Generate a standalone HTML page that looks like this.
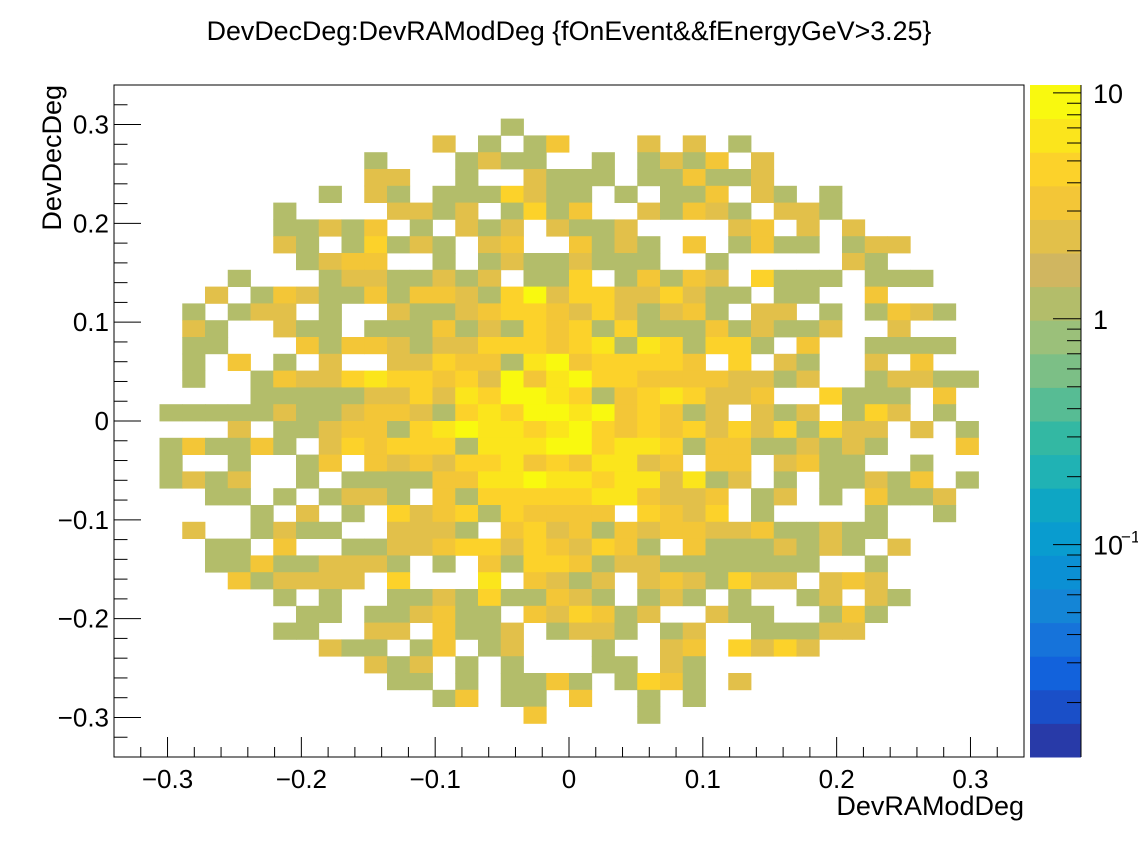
<!DOCTYPE html>
<html><head><meta charset="utf-8"><style>
body{margin:0;background:#fff;}
svg{display:block;font-family:"Liberation Sans",Arial,sans-serif;}
</style></head><body>
<svg id="chart" width="1138" height="843" viewBox="0 0 1138 843" xmlns="http://www.w3.org/2000/svg">
<rect x="0" y="0" width="1138" height="843" fill="#fff"/>
<text x="569" y="40" font-size="26.8" text-anchor="middle">DevDecDeg:DevRAModDeg {fOnEvent&amp;&amp;fEnergyGeV&gt;3.25}</text>
<g id="cells"></g>
<g id="axes"></g>
<rect x="114" y="85" width="910" height="672" fill="none" stroke="#000" stroke-width="1"/>
<text x="1024" y="815" font-size="27" text-anchor="end">DevRAModDeg</text>
<text transform="translate(61,85) rotate(-90)" font-size="27" text-anchor="end">DevDecDeg</text>
<g id="palette"></g>
</svg>
<script>
// Bin contents, rows from top (DevDecDeg high) to bottom; columns left to right. '.' = empty
const rowsData = [
".......... .......... .......... ..........",
".......... .......... .......... ..........",
".......... .......1.. .......... ..........",
".......... ....2.1.13 ...2.2.1.. ..........",
".......... .1...1211. .1.1213.2. ..........",
".......... .22..1..21 11.113112. ..........",
".........1 .21.111421 1.1.113.21 .1........",
".......1.. ..2212.141 3..21321.2 21........",
".......112 13.1.212.2 112....23. 2.2.......",
".......21. 14121.23.. 3121.3.131 1.122.....",
"........12 33..1.1211 2111..1... ..21......",
".....1...1 2211212.11 4.13132.41 11.111....",
"....2.1321 1313321492 44224211.1 1..3......",
"...1.122.1 ..21123443 2421231.22 .1.1321...",
"...21..211 .111312143 4141113121 12..2.....",
"...11...31 3321224443 461641441. 3..1111...",
"...1.3.1.2 ..22433169 344443.4.2 1..2.3....",
"...1..1322 4644342936 9443333221 2..12211..",
"......1111 1224264996 413464223. .4111.3...",
"..11111211 2332146499 6934312.21 2.142.1...",
".....2.112 3314696646 9434342424 1422.2.1..",
"..131131.2 4344416669 9466413311 2121...3..",
"..1..1..13 .323244634 36623.33.2 311..1....",
"..1212..1. 1111336696 64662612.1 .11213.1..",
"....11.1.1 221.314444 4663223.12 .1.3112...",
"......1.2. 1.42341433 33.4324.1. ...1..1...",
"...2..1211 ..2221.342 3132332231 1211......",
"....11.3.. 1122344243 2431.31112 121.2.....",
"....113112 221.1.3144 3122111111 1..1......",
".....31222 2.4...6.32 12.2321422 .232......",
".......1.1 ..11214113 21.121.1.. 12.21.....",
"........11 .112311.32 4312..211. .131......",
".......11. .22.3112.1 221.12..11 122.......",
".........2 11.13.12.. .1..23.424 2.........",
".......... .212.1.1.. .11.21.... ..........",
".......... ..11.1.113 1.1431.2.. ..........",
".......... ....13.11. 3..1.1.... ..........",
".......... ........3. ...1...... ..........",
".......... .......... .......... ..........",
".......... .......... .......... .........."
];
const xRange = [-0.34, 0.34];
const yRange = [-0.34, 0.34];
const nBins = 40;
const xTickLabels = ["\u22120.3","\u22120.2","\u22120.1","0","0.1","0.2","0.3"];
const xTickValues = [-0.3,-0.2,-0.1,0,0.1,0.2,0.3];
const yTickLabels = ["\u22120.3","\u22120.2","\u22120.1","0","0.1","0.2","0.3"];
const yTickValues = [-0.3,-0.2,-0.1,0,0.1,0.2,0.3];
const zLogRange = [-1.94, 1.035];
// palette colours bottom to top
const paletteColors = ["#283aa8","#1a4fc8","#1262dc","#1673da","#1485d6","#0b90d4","#099ccf","#0ea6c4","#20b2b4","#33b8a3","#57bc94","#7cbf86","#9bc07a","#b3bd6a","#d0b660","#e2c04a","#f3c637","#fcd22a","#fbe51c","#f9f90f"];

const NS = "http://www.w3.org/2000/svg";
const PX0=114, PX1=1024, PY0=85, PY1=757;
function sx(v){return PX0+(v-xRange[0])/(xRange[1]-xRange[0])*(PX1-PX0);}
function sy(v){return PY1-(v-yRange[0])/(yRange[1]-yRange[0])*(PY1-PY0);}
function sz(v){return PY1-(Math.log10(v)-zLogRange[0])/(zLogRange[1]-zLogRange[0])*(PY1-PY0);}
function colorFor(v){
  let b=Math.floor((Math.log10(v)-zLogRange[0])/(zLogRange[1]-zLogRange[0])*paletteColors.length);
  b=Math.max(0,Math.min(paletteColors.length-1,b));
  return paletteColors[b];
}
function mk(tag,attrs,parent){const e=document.createElementNS(NS,tag);for(const k in attrs)e.setAttribute(k,attrs[k]);parent.appendChild(e);return e;}

const cells=document.getElementById('cells');
const bw=(xRange[1]-xRange[0])/nBins, bh=(yRange[1]-yRange[0])/nBins;
rowsData.forEach((row,ri)=>{
  const s=row.replace(/ /g,'');
  for(let ci=0;ci<s.length;ci++){
    const ch=s[ci]; if(ch==='.')continue;
    const v=parseInt(ch,10); if(!v)continue;
    const x0=xRange[0]+ci*bw, x1=x0+bw;
    const yTop=yRange[1]-ri*bh, yBot=yTop-bh;
    const r=mk('rect',{x:sx(x0),y:sy(yTop),width:sx(x1)-sx(x0)+0.4,height:sy(yBot)-sy(yTop)+0.4,fill:colorFor(v)},cells);
    
    
  }
});

const axes=document.getElementById('axes');
for(let k=-16;k<=16;k++){
  const v=k*0.02; const major=(k%5===0);
  const x=sx(v);
  const t=mk('line',{x1:x,x2:x,y1:PY1,y2:PY1-(major?20:10),stroke:'#000','stroke-width':1},axes);
  
  
}
xTickValues.forEach((v,i)=>{
  const t=mk('text',{x:sx(v),y:788,'font-size':26,'text-anchor':'middle'},axes);
  t.textContent=xTickLabels[i];
  
  
});
for(let k=-16;k<=16;k++){
  const v=k*0.02; const major=(k%5===0);
  const y=sy(v);
  const t=mk('line',{x1:PX0,x2:PX0+(major?27:13.5),y1:y,y2:y,stroke:'#000','stroke-width':1},axes);
  
  
}
yTickValues.forEach((v,i)=>{
  const t=mk('text',{x:109,y:sy(v)+9,'font-size':26,'text-anchor':'end'},axes);
  t.textContent=yTickLabels[i];
  
  
});

const pal=document.getElementById('palette');
const BX0=1030, BX1=1081, n=paletteColors.length, bandH=(PY1-PY0)/n;
paletteColors.forEach((c,i)=>{
  const r=mk('rect',{x:BX0,y:PY1-(i+1)*bandH,width:BX1-BX0,height:bandH+0.5,fill:c},pal);
  
  
});
mk('line',{x1:BX1,x2:BX1,y1:PY0,y2:PY1,stroke:'#000','stroke-width':1},pal);
[0.01,0.1,1,10].forEach(dec=>{
  for(let m=1;m<=9;m++){
    const v=dec*m; const y=sz(v);
    if(y<PY0-0.5||y>PY1+0.5)continue;
    const t=mk('line',{x1:BX1,x2:BX1-(m===1?28:14),y1:y,y2:y,stroke:'#000','stroke-width':1},pal);
    
    
  }
});
const l10=mk('text',{x:1093,y:sz(10)+10,'font-size':27},pal); l10.textContent='10';


const l1=mk('text',{x:1093,y:sz(1)+10,'font-size':27},pal); l1.textContent='1';


const lm=mk('text',{x:1093,y:sz(0.1)+10,'font-size':27},pal); lm.textContent='10';


const sup=mk('text',{x:1121,y:sz(0.1)-2,'font-size':17},pal); sup.textContent='\u22121';


</script>
</body></html>
